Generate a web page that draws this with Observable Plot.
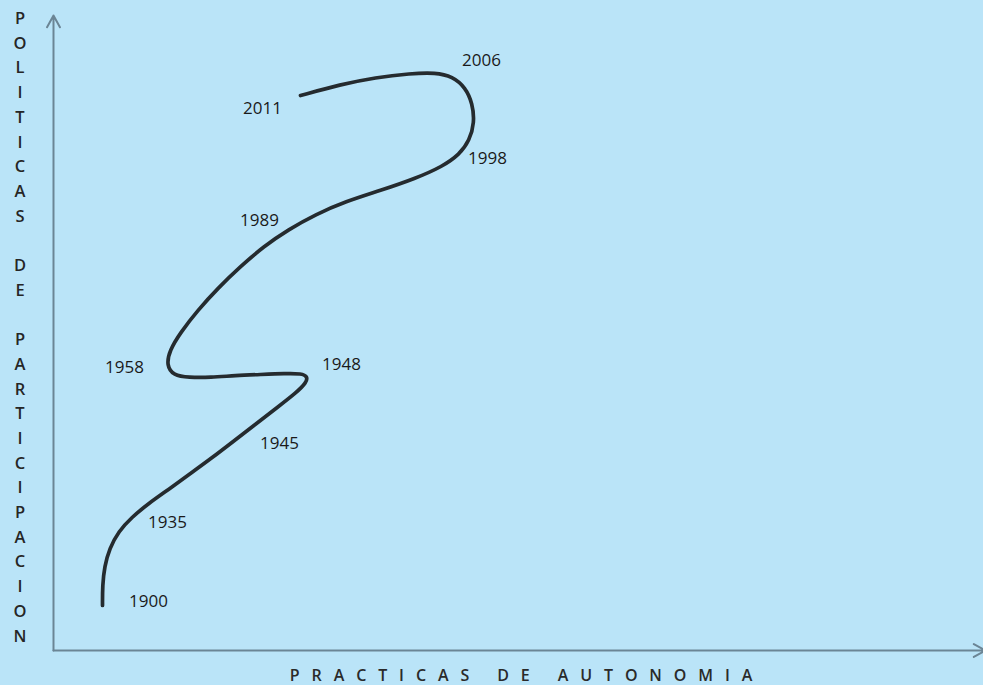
<!DOCTYPE html>
<html>
<head>
<meta charset="utf-8">
<script src="https://cdn.jsdelivr.net/npm/d3@7"></script>
<script src="https://cdn.jsdelivr.net/npm/@observablehq/plot@0.6"></script>
<style>
  html, body { margin: 0; padding: 0; background: #bae4f8; }
  #wrap { position: relative; width: 983px; height: 685px; overflow: hidden; background: #bae4f8; }
  #ylab { position: absolute; left: 0; top: 6px; width: 40px; text-align: center;
          font-family: "Open Sans", sans-serif; font-size: 16.5px; font-weight: 600; color: #262626;
          line-height: 24.7px; white-space: pre; }
  #xlab { position: absolute; left: 6px; width: 1042px; top: 667px; text-align: center;
          font-family: "Open Sans", sans-serif; font-size: 16px; line-height: 17px; font-weight: 600; color: #2a2a2a;
          letter-spacing: 11.9px; white-space: pre; }
</style>
</head>
<body>
<div id="wrap"></div>
<script>
// Curve path (autonomía, participación), in chart units
const autonomia = [49,49,51,56,65,78,95,115,137,159,181,203,225,243,253,254,248,232,207,182,157,135,120,113,116,127,144,165,187,210,235,262,292,327,362,389,406,416,421,419,412,399,382,357,322,287,247];
const participacion = [45,65,84,102,119,133,147,161,177,193,210,227,244,258,268,274,277,277,276,275,273,273,275,285,300,318,340,363,384,404,421,436,449,460,472,484,496,510,528,547,563,574,578,577,573,566,555];

// Year labels
const years = ["1900","1935","1945","1948","1958","1989","1998","2006","2011"];
const yearX = [95,114,226,288,71,206,434,428,209];
const yearY = [49,128,207,286,283,430,492,590,542];

const yTitle = "POLITICAS DE PARTICIPACION";
const xTitle = "PRACTICAS DE AUTONOMIA";

const path = autonomia.map((x, i) => ({x, y: participacion[i]}));
const labels = years.map((t, i) => ({t, x: yearX[i], y: yearY[i]}));
const axes = [
  {x1: 0, y1: 0, x2: 0, y2: 635},
  {x1: 0, y1: 0, x2: 932, y2: 0}
];

const chart = Plot.plot({
  width: 983,
  height: 685,
  marginLeft: 53,
  marginRight: 0,
  marginTop: 15,
  marginBottom: 35,
  x: {domain: [0, 930], axis: null},
  y: {domain: [0, 635], axis: null},
  style: {background: "transparent", overflow: "visible"},
  marks: [
    Plot.arrow(axes, {x1: "x1", y1: "y1", x2: "x2", y2: "y2", stroke: "#6b8595", strokeWidth: 2, headLength: 10, headAngle: 58}),
    Plot.line(path, {x: "x", y: "y", curve: "basis", stroke: "#252b2f", strokeWidth: 3.7, strokeLinecap: "round", strokeLinejoin: "round"}),
    Plot.text(labels, {x: "x", y: "y", text: "t", fontSize: 17, fontFamily: "Open Sans", fill: "#1a1a1a"})
  ]
});

const wrap = document.getElementById("wrap");
chart.style.position = "absolute";
chart.style.left = "0";
chart.style.top = "0";
wrap.appendChild(chart);
const yl = document.createElement("div");
yl.id = "ylab";
yl.textContent = yTitle.split("").join("\n");
wrap.appendChild(yl);
const xl = document.createElement("div");
xl.id = "xlab";
xl.textContent = xTitle;
wrap.appendChild(xl);
</script>
</body>
</html>
